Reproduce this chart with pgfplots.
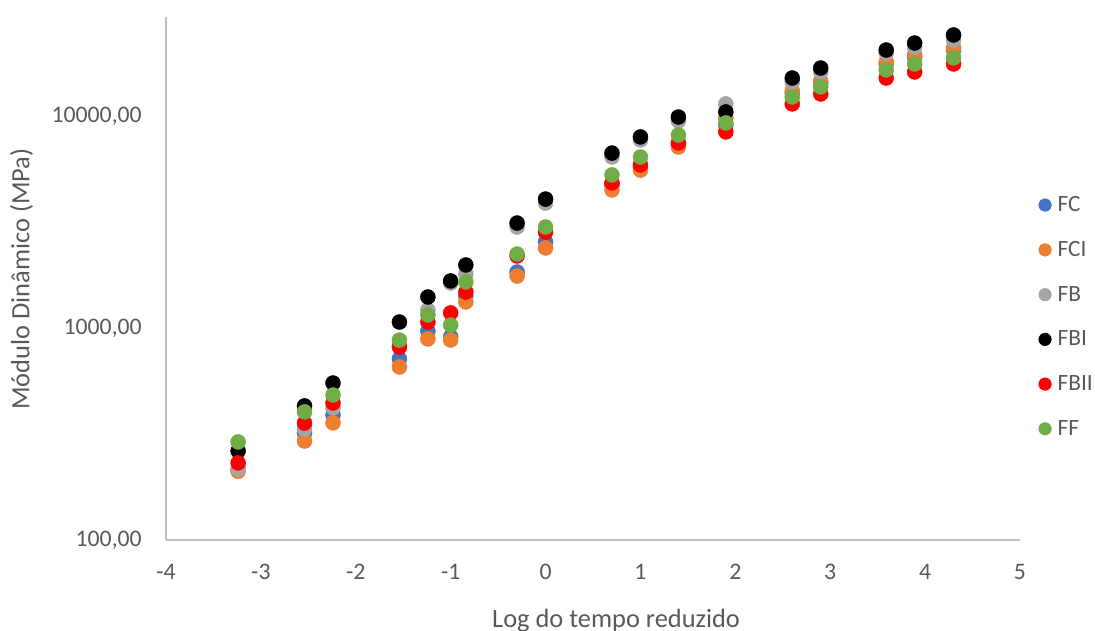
\documentclass[border=0pt]{standalone}
\usepackage{fontspec}
\setmainfont{Carlito}
\usepackage{pgfplots}
\pgfplotsset{compat=1.18}
\usepackage{pgfplotstable}
\definecolor{tc}{HTML}{595959}
\definecolor{cFC}{HTML}{4472C4}
\definecolor{cFCI}{HTML}{ED7D31}
\definecolor{cFB}{HTML}{A5A5A5}
\definecolor{cFBI}{HTML}{000000}
\definecolor{cFBII}{HTML}{FF0000}
\definecolor{cFF}{HTML}{70AD47}
\pgfplotstableread{
x FC FCI FB FBI FBII FF
-3.24 216 211 216 263 231 290
-2.54 320 293 334 429 356 402
-2.24 389 357 420 550 443 483
-1.54 715 655 830 1067 813 877
-1.24 968 888 1216 1400 1067 1152
-1.00 908 878 1630 1667 1178 1033
-0.84 1416 1327 1798 1982 1479 1649
-0.30 1837 1758 2993 3126 2187 2233
0.00 2545 2385 3886 4055 2835 2993
0.70 4729 4480 6405 6683 4835 5271
1.00 5743 5556 7710 7963 5876 6405
1.40 7300 7140 9468 9886 7460 8130
1.90 9070 9790 11400 10450 8410 9270
2.60 12830 13120 14450 15100 11400 12290
2.90 14320 14630 16130 16830 12700 13710
3.59 17590 17990 19810 20470 15100 16480
3.89 18980 19410 21130 22080 16130 17590
4.30 20470 20940 22800 24100 17590 18800
}\data
\begin{document}
\begin{tikzpicture}
\path[use as bounding box] (0pt,0pt) rectangle (821.25pt,473.25pt);
\begin{axis}[
  at={(124.5pt,68.25pt)}, anchor=south west,
  scale only axis, width=640.5pt, height=392.25pt,
  xmin=-4, xmax=5, ymin=100, ymax=29300, ymode=log,
  axis x line*=bottom, axis y line*=left,
  axis line style={draw=black!25, line width=0.9pt},
  major tick length=0pt, minor tick length=0pt,
  xtick={-4,-3,-2,-1,0,1,2,3,4,5},
  xticklabels={-4,-3,-2,-1,0,1,2,3,4,5},
  ytick={100,1000,10000}, yticklabels={{100,00},{1000,00},{10000,00}},
  minor ytick={},
  tick label style={font=\fontsize{17.8}{21}\selectfont, text=tc, inner sep=0pt},
  xticklabel style={anchor=base, yshift=-30pt},
  yticklabel style={anchor=east, xshift=-18pt},
  xlabel={Log do tempo reduzido},
  ylabel={Módulo Dinâmico (MPa)},
  label style={font=\fontsize{19.8}{23}\selectfont, text=tc},
  xlabel style={at={(axis description cs:0.527,-0.168)}, anchor=base},
  ylabel style={at={(axis description cs:-0.169,0.499)}, anchor=center, rotate=0},
  legend style={at={(1.017,0.665)}, anchor=north west, draw=none, fill=none,
    font=\fontsize{17.5}{20}\selectfont, text=tc, row sep=18.8pt,
    nodes={inner sep=1pt}},
  legend cell align=left,
  legend image code/.code={\draw[#1, mark size=4.7pt] plot coordinates {(0cm,0cm)}; \path[draw=none, fill=none] (-4.7pt,0pt) -- (8.5pt,0pt);},
  every axis plot/.append style={only marks, mark=*, mark size=5.6pt},
]
\addplot[cFC, mark options={draw=cFC, fill=cFC}] table[x=x, y=FC] {\data};
\addlegendentry{FC}
\addplot[cFCI, mark options={draw=cFCI, fill=cFCI}] table[x=x, y=FCI] {\data};
\addlegendentry{FCI}
\addplot[cFB, mark options={draw=cFB, fill=cFB}] table[x=x, y=FB] {\data};
\addlegendentry{FB}
\addplot[cFBI, mark options={draw=cFBI, fill=cFBI}] table[x=x, y=FBI] {\data};
\addlegendentry{FBI}
\addplot[cFBII, mark options={draw=cFBII, fill=cFBII}] table[x=x, y=FBII] {\data};
\addlegendentry{FBII}
\addplot[cFF, mark options={draw=cFF, fill=cFF}] table[x=x, y=FF] {\data};
\addlegendentry{FF}
\end{axis}
\end{tikzpicture}
\end{document}
